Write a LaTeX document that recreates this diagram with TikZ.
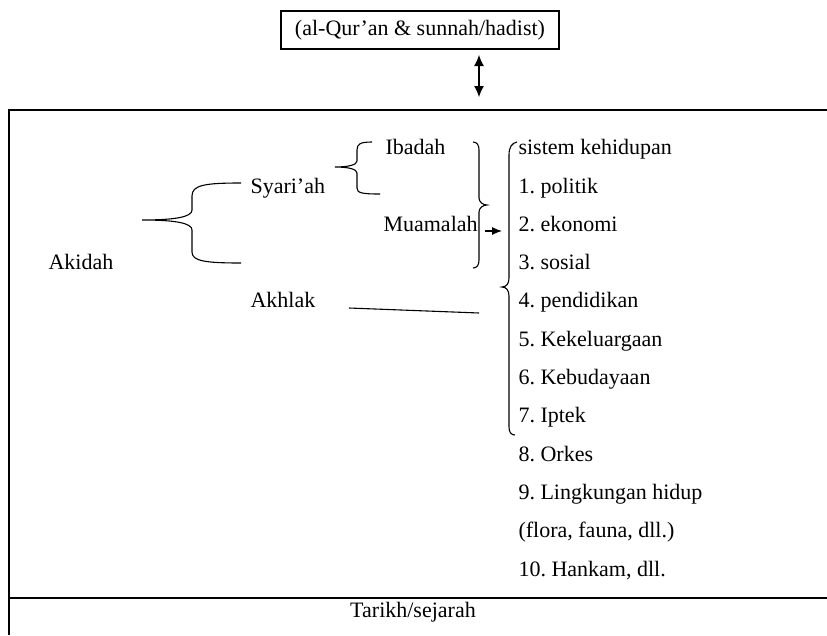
\documentclass[tikz,border=0pt]{standalone}
\usepackage{fontspec}
\setmainfont{Liberation Serif}
\usetikzlibrary{arrows.meta}

\tikzset{
  lbl/.style={font=\fontsize{22}{26}\selectfont\frenchspacing, inner sep=0pt, anchor=base west},
  arr/.style={-{Latex[length=10pt,width=8pt]}},
  dblarr/.style={{Latex[length=11pt,width=10pt]}-{Latex[length=11pt,width=10pt]}}
}

\begin{document}
\begin{tikzpicture}[x=1pt, y=-1pt, line width=1.1pt]

\useasboundingbox (0,0) rectangle (827,635);

\node [draw, font=\fontsize{22}{26}\selectfont, minimum width=278pt, minimum height=38pt, inner sep=0pt] (quran) at (420,30) {(al-Qur'an \& sunnah/hadist)};

\coordinate (up) at (479,55);
\coordinate (down) at (479,97);
\draw [dblarr] (up) -- (down);

% frame
\draw (827,110) -| (9,635);
\draw (9,598) -- (827,598);

\node [lbl] (akidah) at (48,269) {Akidah};
\node [lbl] (syariah) at (250,193) {Syari'ah};
\node [lbl] (akhlak) at (250,307) {Akhlak};
\node [lbl] (ibadah) at (385,154) {Ibadah};
\node [lbl] (muamalah) at (383,231) {Muamalah};

\foreach \y/\t [count=\i] in {154/sistem kehidupan, 193/1. politik, 231/2. ekonomi, 269/3. sosial,
    307/4. pendidikan, 346/5. Kekeluargaan, 384/6. Kebudayaan/seni, 422/7. Iptek, 461/8. Orkes,
    499/9. Lingkungan hidup, 537/{(flora, fauna, dll.)}, 576/{10. Hankam, dll.}}
    \node [lbl] (item\i) at (518,\y) {\t};

\node [lbl, anchor=base] (tarikh) at (413,617) {Tarikh/sejarah};

% braces
\draw (241,183) .. controls (205,183) and (192,185) .. (192,196) -- (192,210)
    .. controls (192,217) and (175,220) .. (142,220)
    .. controls (175,220) and (192,223) .. (192,230) -- (192,252)
    .. controls (192,261) and (205,263) .. (241,263);

\draw (372,142) .. controls (360,142) and (357,144) .. (357,150) -- (357,161)
    .. controls (357,165) and (348,167) .. (335,167)
    .. controls (348,167) and (357,169) .. (357,173) -- (357,188)
    .. controls (357,193) and (362,194) .. (380,194);

\draw (473,142) .. controls (477,142) and (479,145) .. (479,150) -- (479,198)
    .. controls (479,202) and (483,205) .. (487,205)
    .. controls (483,205) and (479,208) .. (479,212) -- (479,260)
    .. controls (479,265) and (477,268) .. (473,268);

\draw (517,142) .. controls (512,143) and (509,147) .. (509,155) -- (509,278)
    .. controls (509,284) and (506,287) .. (502,287)
    .. controls (506,287) and (509,290) .. (509,296) -- (509,427)
    .. controls (509,432) and (511,435) .. (515,435);

\coordinate (mu1) at (485,231);
\coordinate (mu2) at (502,231);
\draw [arr] (mu1) -- (mu2);

\coordinate (ak1) at (349,308);
\coordinate (ak2) at (479,313);
\draw (ak1) -- (ak2);

\end{tikzpicture}
\end{document}
